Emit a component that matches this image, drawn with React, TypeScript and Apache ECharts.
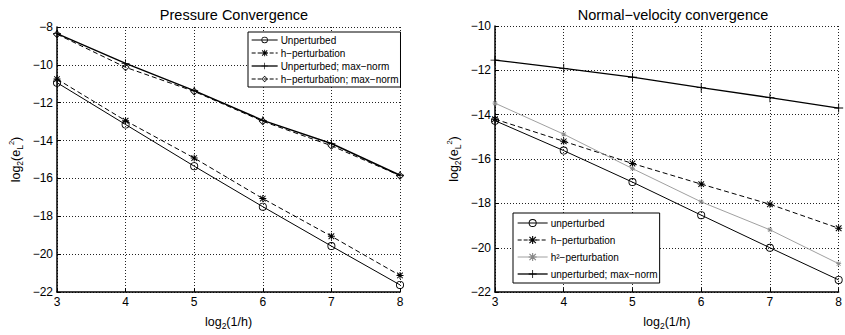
import React, { useEffect, useRef } from "react";
import * as echarts from "echarts";

const xs = [3, 4, 5, 6, 7, 8];

// Pressure convergence
const pUnpert = [-10.94, -13.15, -15.35, -17.49, -19.57, -21.62];
const pHPert = [-10.75, -12.95, -14.92, -17.06, -19.05, -21.12];
const pUnpertMax = [-8.35, -9.92, -11.36, -12.93, -14.15, -15.83];
const pHPertMax = [-8.38, -10.13, -11.4, -12.98, -14.27, -15.85];

// Normal-velocity convergence
const vUnpert = [-14.27, -15.62, -17.04, -18.53, -20.0, -21.45];
const vHPert = [-14.2, -15.2, -16.2, -17.13, -18.04, -19.12];
const vH2Pert = [-13.48, -14.88, -16.43, -17.93, -19.19, -20.72];
const vUnpertMax = [-11.54, -11.91, -12.31, -12.78, -13.23, -13.7];

const pNames = ["Unperturbed", "h\u2212perturbation", "Unperturbed; max\u2212norm", "h\u2212perturbation; max\u2212norm"];
const vNames = ["unperturbed", "h\u2212perturbation", "h\u00b2\u2212perturbation", "unperturbed; max\u2212norm"];

const ASTER =
  "path://M4.3,0L5.7,0L5.7,10L4.3,10Z M0,4.3L10,4.3L10,5.7L0,5.7Z M1.5,0.5L9.5,8.5L8.5,9.5L0.5,1.5Z M8.5,0.5L9.5,1.5L1.5,9.5L0.5,8.5Z";
const PLUS = "path://M4.5,0L5.5,0L5.5,10L4.5,10Z M0,4.5L10,4.5L10,5.5L0,5.5Z";
const RING = "path://M5,0A5,5 0 1,1 5,10A5,5 0 1,1 5,0Z M5,1.1A3.9,3.9 0 1,0 5,8.9A3.9,3.9 0 1,0 5,1.1Z";
const DIAM = "path://M5,0L10,5L5,10L0,5Z M5,1.4L1.4,5L5,8.6L8.6,5Z";

const pairs = (ys: number[]) => xs.map((x, i) => [x, ys[i]]);
const fmt = (v: number) => String(v).replace("-", "\u2212");

const FONT = "Liberation Sans, Arial, Helvetica, sans-serif";

export default function App() {
  const ref = useRef<HTMLDivElement>(null);
  useEffect(() => {
    if (!ref.current) return;
    const chart = echarts.init(ref.current, undefined, { renderer: "svg" });
    const rich = {
      s: { fontSize: 8.5, verticalAlign: "bottom", lineHeight: 17, fontFamily: FONT, color: "#000" },
      p: { fontSize: 7.5, verticalAlign: "top", lineHeight: 17, fontFamily: FONT, color: "#000" },
    };
    const mkX = (gi: number) => ({
      type: "value",
      gridIndex: gi,
      min: 3,
      max: 8,
      interval: 1,
      name: "log{s|2}(1/h)",
      nameLocation: "middle",
      nameGap: 16,
      nameTextStyle: { fontSize: 12.5, color: "#000", fontFamily: FONT, lineHeight: 17, rich },
      axisLine: { onZero: false, lineStyle: { color: "#000", width: 1.5 } },
      axisTick: { inside: true, length: 4, lineStyle: { color: "#000" } },
      axisLabel: { color: "#000", fontSize: 12, fontFamily: FONT, margin: 4 },
      splitLine: { show: true, lineStyle: { color: "#222", type: [1, 2], width: 1 } },
    });
    const mkY = (gi: number, min: number, max: number) => ({
      type: "value",
      gridIndex: gi,
      min,
      max,
      interval: 2,
      name: "log{s|2}(e{s|L}{p|2})",
      nameLocation: "middle",
      nameGap: 33,
      nameTextStyle: { fontSize: 12.5, color: "#000", fontFamily: FONT, lineHeight: 17, rich },
      axisLine: { onZero: false, lineStyle: { color: "#000", width: 1.5 } },
      axisTick: { inside: true, length: 4, lineStyle: { color: "#000" } },
      axisLabel: { color: "#000", fontSize: 12, fontFamily: FONT, margin: 4, formatter: fmt },
      splitLine: { show: true, lineStyle: { color: "#222", type: [1, 2], width: 1 } },
    });
    const mkS = (
      name: string,
      gi: number,
      ys: number[],
      symbol: string,
      size: number,
      lineType: any,
      width: number,
      color = "#000"
    ) => ({
      type: "line",
      name,
      xAxisIndex: gi,
      yAxisIndex: gi,
      data: pairs(ys),
      symbol,
      symbolSize: size,
      showAllSymbol: true,
      lineStyle: { color, width, type: lineType },
      itemStyle: { color, borderWidth: 0 },
    });
    const legItems = (names: string[], types: any[], widths: number[], colors: string[]) =>
      names.map((n, i) => ({
        name: n,
        itemStyle: { color: colors[i], borderWidth: 0 },
        lineStyle: { width: widths[i], type: types[i], color: colors[i] },
      }));
    const pSyms = [RING, ASTER, PLUS, DIAM];
    const vSyms = [RING, ASTER, ASTER, PLUS];
    chart.setOption({
      animation: false,
      backgroundColor: "#fff",
      title: [
        { text: "Pressure Convergence", left: 229, top: 2, textAlign: "center", textStyle: { fontSize: 14.5, fontWeight: "normal", color: "#000", fontFamily: FONT } },
        { text: "Normal\u2212velocity convergence", left: 668, top: 2, textAlign: "center", textStyle: { fontSize: 14.5, fontWeight: "normal", color: "#000", fontFamily: FONT } },
      ],
      grid: [
        { left: 57, right: 445, top: 27, bottom: 37 },
        { left: 495, right: 3, top: 26, bottom: 37 },
      ],
      xAxis: [mkX(0), mkX(1)],
      yAxis: [mkY(0, -22, -8), mkY(1, -22, -10)],
      legend: [
        {
          data: legItems(pNames, ["solid", [4, 2], "solid", [4, 2]], [1, 1, 1.3, 1], ["#000", "#000", "#000", "#000"]),
          orient: "vertical",
          left: 248,
          top: 32,
          itemWidth: 26,
          itemHeight: 8,
          itemGap: 1,
          padding: [2, 2, 2, 3],
          borderColor: "#000",
          borderWidth: 1,
          backgroundColor: "#fff",
          borderRadius: 0,
          textStyle: { fontSize: 10, lineHeight: 12, color: "#000", fontFamily: FONT, padding: [0, 0, 0, -2] },
        },
        {
          data: legItems(vNames, ["solid", [4, 2], "solid", "solid"], [1, 1, 0.8, 1.3], ["#000", "#000", "#888", "#000"]),
          orient: "vertical",
          left: 513,
          top: 213,
          itemWidth: 30,
          itemHeight: 10,
          itemGap: 7,
          padding: [5, 2, 4, 4],
          borderColor: "#000",
          borderWidth: 1,
          backgroundColor: "#fff",
          borderRadius: 0,
          textStyle: { fontSize: 10, color: "#000", fontFamily: FONT, padding: [0, 0, 0, -2] },
        },
      ],
      series: [
        mkS(pNames[0], 0, pUnpert, pSyms[0], 8, "solid", 1),
        mkS(pNames[1], 0, pHPert, pSyms[1], 7, [5, 3], 1),
        mkS(pNames[2], 0, pUnpertMax, pSyms[2], 8, "solid", 1.5),
        mkS(pNames[3], 0, pHPertMax, pSyms[3], 8, [5, 3], 1),
        mkS(vNames[0], 1, vUnpert, vSyms[0], 8, "solid", 1),
        mkS(vNames[1], 1, vHPert, vSyms[1], 7, [5, 3], 1),
        mkS(vNames[2], 1, vH2Pert, vSyms[2], 5, "solid", 0.8, "#888"),
        mkS(vNames[3], 1, vUnpertMax, vSyms[3], 9, "solid", 1.3),
      ],
    });
    return () => chart.dispose();
  }, []);
  return (
    <div
      ref={ref}
      style={{ position: "fixed", left: 0, top: 0, width: 845, height: 335, background: "#fff" }}
    />
  );
}
